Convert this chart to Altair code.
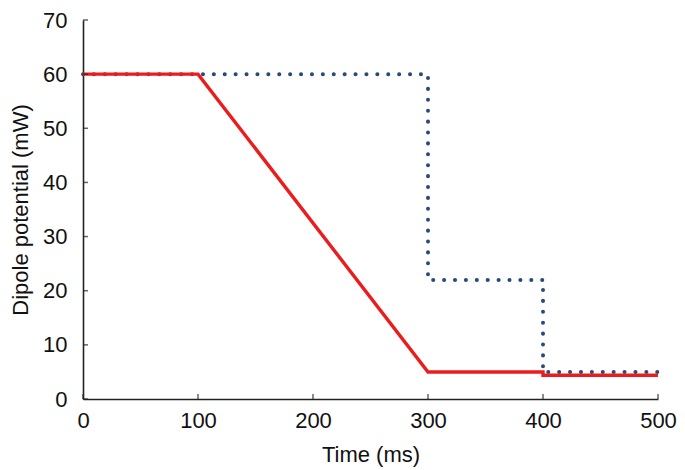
import altair as alt
import pandas as pd

# Data
red_t = [0, 100, 300, 400, 400, 500]
red_p = [60, 60, 5, 5, 4.4, 4.4]
blue_t = [0, 300, 300, 400, 400, 500]
blue_p = [60, 60, 22, 22, 5, 5]
x_ticks = [0, 100, 200, 300, 400, 500]
y_ticks = [0, 10, 20, 30, 40, 50, 60, 70]

W, H = 575, 379

red_df = pd.DataFrame({"t": red_t, "p": red_p, "o": list(range(len(red_t)))})
blue_df = pd.DataFrame({"t": blue_t, "p": blue_p, "o": list(range(len(blue_t)))})
xt_df = pd.DataFrame({"v": x_ticks})
yt_df = pd.DataFrame({"v": y_ticks})

xscale = alt.Scale(domain=[0, 500], nice=False, zero=False)
yscale = alt.Scale(domain=[0, 70], nice=False)

FONT = "Liberation Sans"

xaxis = alt.Axis(values=x_ticks, ticks=False, grid=False, labelPadding=11,
                 title="Time (ms)", titlePadding=13, domainColor="#222", domainWidth=1.6,
                 labelFontSize=22, titleFontSize=22, labelFont=FONT, titleFont=FONT,
                 labelColor="#111", titleColor="#111", titleFontWeight="normal",
                 labelFlush=False)
yaxis = alt.Axis(values=y_ticks, ticks=False, grid=False, labelPadding=16,
                 title="Dipole potential (mW)", titlePadding=10, domainColor="#222", domainWidth=1.6,
                 labelFontSize=22, titleFontSize=22, labelFont=FONT, titleFont=FONT,
                 labelColor="#111", titleColor="#111", titleFontWeight="normal",
                 labelFlush=False)

blue = alt.Chart(blue_df).mark_line(
    color="#2b4a7c", strokeWidth=4, strokeDash=[0.1, 10.8], strokeCap="round"
).encode(
    x=alt.X("t:Q", scale=xscale, axis=xaxis),
    y=alt.Y("p:Q", scale=yscale, axis=yaxis),
    order="o:Q",
)

red = alt.Chart(red_df).mark_line(color="#ec1c1c", strokeWidth=3.4).encode(
    x=alt.X("t:Q", scale=xscale),
    y=alt.Y("p:Q", scale=yscale),
    order="o:Q",
)

xt = alt.Chart(xt_df).mark_tick(orient="vertical", size=5, thickness=1.5,
                                 color="#222", yOffset=-2.5).encode(
    x=alt.X("v:Q", scale=xscale),
    y=alt.datum(0, scale=yscale),
)
yt = alt.Chart(yt_df).mark_tick(orient="horizontal", size=5, thickness=1.5,
                                 color="#222", xOffset=2.5).encode(
    y=alt.Y("v:Q", scale=yscale),
    x=alt.datum(0, scale=xscale),
)

chart = alt.layer(blue, red, xt, yt).properties(
    width=W, height=H,
    padding={"left": 75, "top": 12, "right": 19, "bottom": 68},
    autosize=alt.AutoSizeParams(type="none"),
    background="white",
).configure_view(stroke=None)

chart.save("out.html", embed_options={"renderer": "svg", "actions": False})
